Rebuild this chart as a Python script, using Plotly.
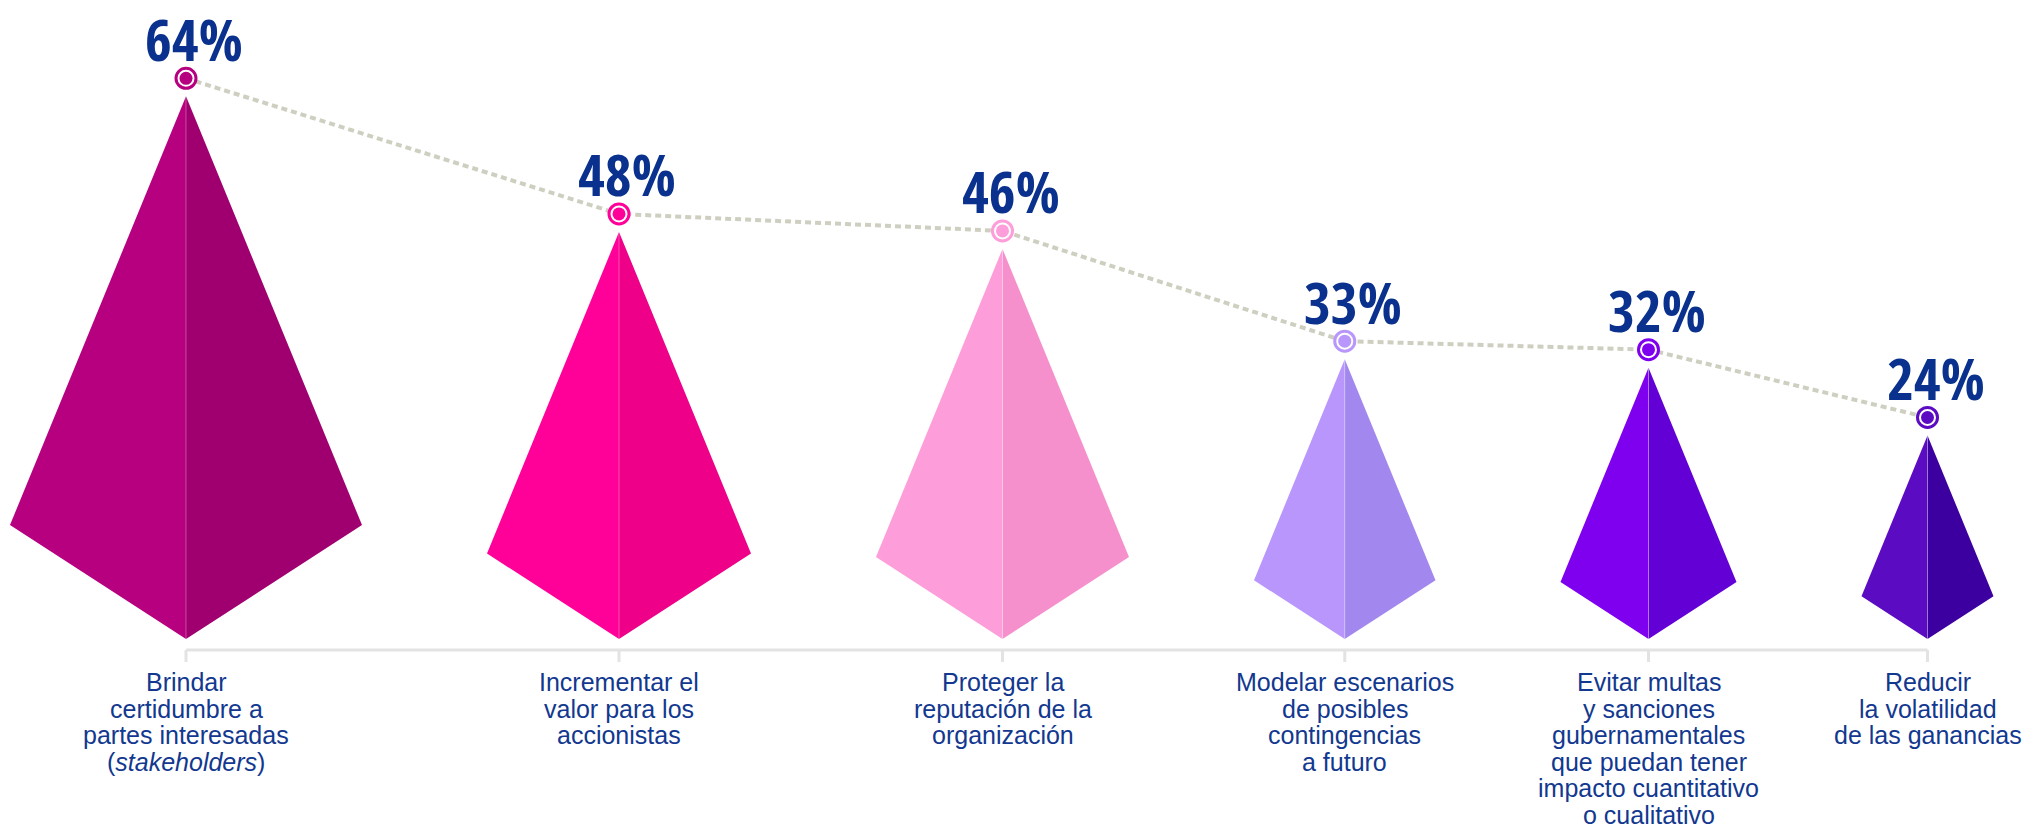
import plotly.graph_objects as go

# --- data -----------------------------------------------------------------
categories = [
    "Brindar<br>certidumbre a<br>partes interesadas<br>(<i>stakeholders</i>)",
    "Incrementar el<br>valor para los<br>accionistas",
    "Proteger la<br>reputación de la<br>organización",
    "Modelar escenarios<br>de posibles<br>contingencias<br>a futuro",
    "Evitar multas<br>y sanciones<br>gubernamentales<br>que puedan tener<br>impacto cuantitativo<br>o cualitativo",
    "Reducir<br>la volatilidad<br>de las ganancias",
]
values = [64, 48, 46, 33, 32, 24]
value_labels = ["64%", "48%", "46%", "33%", "32%", "24%"]

# face colours (lit side, shaded side)
left_colors = ["#B7007F", "#FF0099", "#FD9DD9", "#B996FC", "#7F00EE", "#5B0BC2"]
right_colors = ["#A0006F", "#EE0088", "#F590CD", "#A288EE", "#6200D6", "#3D00A0"]

# --- geometry ---------------------------------------------------------------
W, H = 2029, 828
BASE_PX = 639            # pixel row of the value 0
PX_PER_UNIT = 8.48       # vertical pixels per percentage point
HALF_W_PER_UNIT = 2.75   # horizontal half-width per percentage point
GAP = 125                # space between neighbouring pyramids
LEFT = 10
SHOULDER = 0.21          # height of the side corners relative to the value
MARKER_GAP_PX = 18

y_top = BASE_PX / PX_PER_UNIT
y_bottom = -(H - BASE_PX) / PX_PER_UNIT

half_widths = [v * HALF_W_PER_UNIT for v in values]
centers = []
edge = LEFT
for hw in half_widths:
    centers.append(edge + hw)
    edge += 2 * hw + GAP

marker_y = [v + MARKER_GAP_PX / PX_PER_UNIT for v in values]

text_blue = "#0A318D"
label_blue = "#12388F"
condensed = ("Noto Sans ExtraCondensed, Noto Sans Condensed, Open Sans Condensed, "
             "Roboto Condensed, Liberation Sans Narrow, Liberation Sans, sans-serif")

fig = go.Figure()

# pyramids
for c, hw, v, lc, rc in zip(centers, half_widths, values, left_colors, right_colors):
    fig.add_trace(go.Scatter(
        x=[c, c - hw, c, c], y=[v, SHOULDER * v, 0, v],
        mode="lines", fill="toself", fillcolor=lc,
        line=dict(width=0), hoverinfo="skip", showlegend=False))
    fig.add_trace(go.Scatter(
        x=[c, c + hw, c, c], y=[v, SHOULDER * v, 0, v],
        mode="lines", fill="toself", fillcolor=rc,
        line=dict(width=0), hoverinfo="skip", showlegend=False))
    fig.add_trace(go.Scatter(
        x=[c, c], y=[v, 0], mode="lines",
        line=dict(width=1, color="rgba(255,255,255,0.3)"),
        hoverinfo="skip", showlegend=False))

# dotted trend line
fig.add_trace(go.Scatter(
    x=centers, y=marker_y, mode="lines",
    line=dict(color="#CFCFC1", width=4, dash="6px,4px"),
    hoverinfo="skip", showlegend=False))

# ring markers
fig.add_trace(go.Scatter(
    x=centers, y=marker_y, mode="markers",
    marker=dict(size=20, color="white", line=dict(width=3, color=left_colors)),
    hoverinfo="skip", showlegend=False))
fig.add_trace(go.Scatter(
    x=centers, y=marker_y, mode="markers",
    marker=dict(size=13, color=left_colors, line=dict(width=0)),
    hovertemplate="%{y}<extra></extra>", showlegend=False))

# value labels
for c, my, t in zip(centers, marker_y, value_labels):
    fig.add_annotation(
        x=c, y=my, text=f"<b>{t}</b>", showarrow=False,
        xanchor="center", yanchor="middle", xshift=8, yshift=40,
        font=dict(family=condensed, size=58, color=text_blue))

# category axis: baseline with a tick under every pyramid
AXIS_PX = -11
TICK_PX = -23
fig.add_shape(type="line", xref="x", yref="y", ysizemode="pixel", yanchor=0,
              x0=centers[0], x1=centers[-1], y0=AXIS_PX, y1=AXIS_PX,
              line=dict(color="#E3E3E3", width=3))
for c in centers:
    fig.add_shape(type="line", xref="x", yref="y", ysizemode="pixel", yanchor=0,
                  x0=c, x1=c, y0=AXIS_PX, y1=TICK_PX,
                  line=dict(color="#E3E3E3", width=3))

# category labels, one annotation per line for tight leading
FIRST_LINE_PX = 43
LEADING = 26.5
for c, cat in zip(centers, categories):
    for i, line in enumerate(cat.split("<br>")):
        fig.add_annotation(
            x=c, y=0, text=line, showarrow=False,
            xanchor="center", yanchor="middle",
            yshift=-(FIRST_LINE_PX + i * LEADING),
            font=dict(family="Liberation Sans, Arial, sans-serif", size=25, color=label_blue))

fig.update_layout(
    width=W, height=H,
    margin=dict(l=0, r=0, t=0, b=0),
    paper_bgcolor="white", plot_bgcolor="white",
    xaxis=dict(range=[0, W], visible=False, fixedrange=True),
    yaxis=dict(range=[y_bottom, y_top], visible=False, fixedrange=True),
    showlegend=False,
)

fig.write_html("out.html")
